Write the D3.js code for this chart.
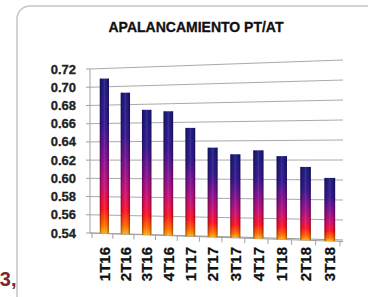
<!DOCTYPE html>
<html>
<head>
<meta charset="utf-8">
<script src="https://cdn.jsdelivr.net/npm/d3@7"></script>
<style>
  html, body { margin: 0; padding: 0; background: #fff; }
  svg { display: block; font-family: "Liberation Sans", Arial, sans-serif; }
</style>
</head>
<body>
<div id="chart"></div>
<script>
const categories = ["1T16", "2T16", "3T16", "4T16", "1T17", "2T17", "3T17", "4T17", "1T18", "2T18", "3T18"];
const values = [0.709, 0.693, 0.674, 0.672, 0.654, 0.633, 0.626, 0.630, 0.624, 0.613, 0.602];
const yTicks = [0.54, 0.56, 0.58, 0.60, 0.62, 0.64, 0.66, 0.68, 0.70, 0.72];
const title = "APALANCAMIENTO PT/AT";

const width = 368, height = 297;

const svg = d3.select("#chart").append("svg")
  .attr("width", width)
  .attr("height", height);

// card frame
svg.append("rect")
  .attr("x", 17).attr("y", 6)
  .attr("width", 400).attr("height", 340)
  .attr("rx", 13).attr("ry", 13)
  .attr("fill", "#fff")
  .attr("stroke", "#c6c6c6")
  .attr("stroke-width", 1.5);

// the "3," left of the card
svg.append("text")
  .attr("x", 16.5).attr("y", 286)
  .attr("text-anchor", "end")
  .style("font-size", "20px")
  .style("font-weight", "bold")
  .attr("fill", "#7a2a2a")
  .text("3,");

svg.append("text")
  .attr("x", 196).attr("y", 32)
  .attr("text-anchor", "middle")
  .style("font-size", "14px")
  .style("font-weight", "bold")
  .attr("fill", "#111")
  .attr("stroke", "#111").attr("stroke-width", 0.3)
  .text(title);

// back wall in perspective: left edge and right edge have their own value scale
const wallX0 = 90, wallX1 = 343;
const yLeft = d3.scaleLinear().domain([0.54, 0.72]).range([233, 69]);
const yRight = d3.scaleLinear().domain([0.54, 0.72]).range([240, 60]);
const wallY = (v, x) => {
  const t = (x - wallX0) / (wallX1 - wallX0);
  return yLeft(v) * (1 - t) + yRight(v) * t;
};
const floorY = d3.scaleLinear().domain([wallX0, wallX1]).range([233, 241.5]);

// categories along the floor, foreshortened
const x = d3.scaleBand().domain(categories).range([0, 1]).paddingInner(0.56).paddingOuter(0.28);
const k = 0.917;
const persp = d3.scaleLinear().domain([0, 1]).range([94, 342]);
const px = u => persp(k * u / (1 + (k - 1) * u));

const grid = svg.append("g");
grid.selectAll("line.grid")
  .data(yTicks)
  .enter().append("line")
  .attr("x1", wallX0).attr("y1", d => yLeft(d))
  .attr("x2", wallX1).attr("y2", d => yRight(d))
  .attr("stroke", d => d === 0.54 ? "#999" : "#aaa")
  .attr("stroke-width", 1);

grid.append("line")
  .attr("x1", wallX0).attr("x2", wallX0)
  .attr("y1", yLeft(0.72)).attr("y2", yLeft(0.54))
  .attr("stroke", "#a0a0a0");

grid.selectAll("line.ytick")
  .data(yTicks)
  .enter().append("line")
  .attr("x1", wallX0 - 4).attr("x2", wallX0)
  .attr("y1", d => yLeft(d)).attr("y2", d => yLeft(d))
  .attr("stroke", "#a0a0a0");

svg.selectAll("text.ylab")
  .data(yTicks)
  .enter().append("text")
  .attr("x", 76)
  .attr("y", d => yLeft(d) + 4.5)
  .attr("text-anchor", "end")
  .style("font-size", "13px")
  .style("font-weight", "bold")
  .attr("fill", "#222")
  .attr("stroke", "#222").attr("stroke-width", 0.3)
  .text(d => d.toFixed(2));

// floor edge with category ticks
const bounds = d3.range(categories.length + 1).map(i => i / categories.length);
grid.append("line")
  .attr("x1", wallX0).attr("y1", floorY(wallX0))
  .attr("x2", wallX1).attr("y2", floorY(wallX1))
  .attr("stroke", "#a0a0a0");
grid.selectAll("line.xtick")
  .data(bounds)
  .enter().append("line")
  .attr("x1", d => px(d) - 2).attr("x2", d => px(d) - 2)
  .attr("y1", d => floorY(px(d) - 2)).attr("y2", d => floorY(px(d) - 2) + 5)
  .attr("stroke", "#a0a0a0");

const defs = svg.append("defs");
const grad = defs.append("linearGradient")
  .attr("id", "barGrad")
  .attr("x1", 0).attr("y1", 0).attr("x2", 0).attr("y2", 1);
[[0, "#1c1c7e"], [0.3, "#34188e"], [0.52, "#861290"], [0.7, "#cc1072"],
 [0.84, "#ff1428"], [0.94, "#ff6a00"], [1, "#ffb020"]].forEach(s => {
  grad.append("stop").attr("offset", s[0]).attr("stop-color", s[1]);
});
const shade = defs.append("linearGradient")
  .attr("id", "barShade")
  .attr("x1", 0).attr("y1", 0).attr("x2", 1).attr("y2", 0);
[[0, "#000", 0.4], [0.25, "#000", 0], [0.5, "#fff", 0.1], [0.75, "#000", 0], [1, "#000", 0.4]].forEach(s => {
  shade.append("stop").attr("offset", s[0]).attr("stop-color", s[1]).attr("stop-opacity", s[2]);
});

const bars = categories.map((c, i) => {
  const x0 = px(x(c)), x1 = px(x(c) + x.bandwidth());
  const xc = (x0 + x1) / 2;
  return { c, v: values[i], x0, x1, xc, top: wallY(values[i], xc), bottom: floorY(xc) };
});

const barG = svg.append("g");
barG.selectAll("rect.bar")
  .data(bars)
  .enter().append("rect")
  .attr("x", d => d.x0).attr("width", d => d.x1 - d.x0)
  .attr("y", d => d.top).attr("height", d => d.bottom - d.top)
  .attr("fill", "url(#barGrad)");
barG.selectAll("rect.shade")
  .data(bars)
  .enter().append("rect")
  .attr("x", d => d.x0).attr("width", d => d.x1 - d.x0)
  .attr("y", d => d.top).attr("height", d => d.bottom - d.top)
  .attr("fill", "url(#barShade)");

svg.selectAll("text.xlab")
  .data(bars)
  .enter().append("text")
  .attr("transform", d => `translate(${d.xc + 5.5}, 247) rotate(-90)`)
  .attr("text-anchor", "end")
  .style("font-size", "15px")
  .style("font-weight", "bold")
  .attr("fill", "#111")
  .attr("stroke", "#111").attr("stroke-width", 0.3)
  .text(d => d.c);
</script>
</body>
</html>
